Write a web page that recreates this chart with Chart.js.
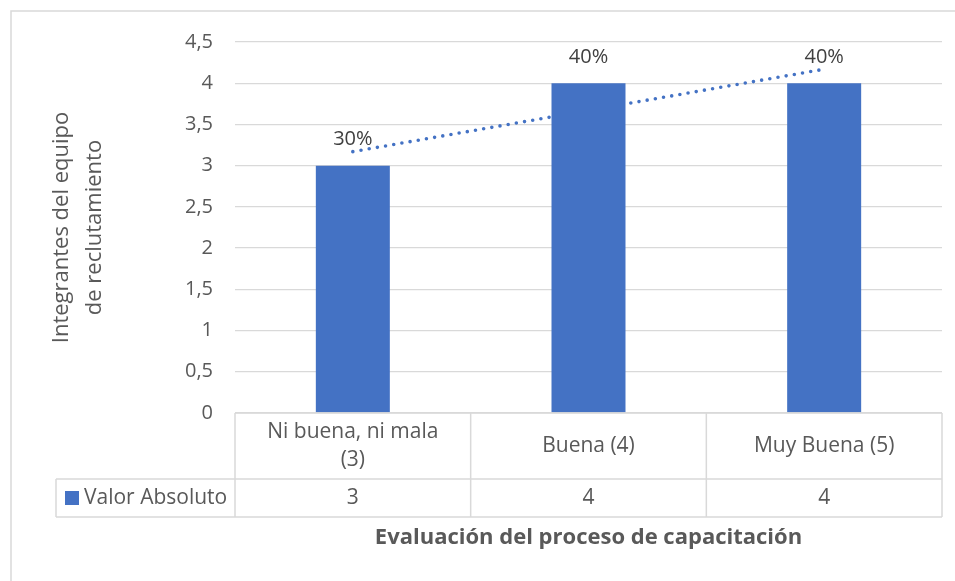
<!DOCTYPE html>
<html>
<head>
<meta charset="utf-8">
<script src="https://cdn.jsdelivr.net/npm/chart.js@4"></script>
<style>
  html, body { margin: 0; padding: 0; background: #fff; }
  #wrap { width: 955px; height: 581px; position: relative; }
</style>
</head>
<body>
<div id="wrap"><canvas id="chart"></canvas></div>
<script>
// Datos
const categorias = [["Ni buena, ni mala", "(3)"], ["Buena (4)"], ["Muy Buena (5)"]];
const valores = [3, 4, 4];
const porcentajes = ["30%", "40%", "40%"];
const tendencia = [3.17, 3.67, 4.17];
const yTickLabels = ["0", "0,5", "1", "1,5", "2", "2,5", "3", "3,5", "4", "4,5"];
const serieNombre = "Valor Absoluto";

const FONT = "'Open Sans', sans-serif";
const GRIS = "#d9d9d9";
const TEXTO = "#595959";
const AZUL = "#4472C4";

// Marco, tabla de datos, etiquetas y titulo del eje X
const tablaPlugin = {
  id: "tabla",
  beforeDraw(chart) {
    const ctx = chart.ctx;
    ctx.save();
    ctx.strokeStyle = GRIS;
    ctx.lineWidth = 1.5;
    ctx.strokeRect(11, 11, 2000, 2000);
    ctx.restore();
  },
  afterDatasetsDraw(chart) {
    const ctx = chart.ctx;
    const meta = chart.getDatasetMeta(0);
    ctx.save();
    ctx.fillStyle = "#404040";
    ctx.font = "20px " + FONT;
    ctx.textAlign = "center";
    ctx.textBaseline = "middle";
    meta.data.forEach((bar, i) => {
      ctx.fillText(porcentajes[i], bar.x, bar.y - 26);
    });
    ctx.restore();
  },
  afterDraw(chart) {
    const { ctx, chartArea: a, scales: { x } } = chart;
    const top = a.bottom, mid = top + 66, bot = top + 104;
    const legendLeft = 56;
    const step = (a.right - a.left) / categorias.length;

    ctx.save();
    ctx.strokeStyle = GRIS;
    ctx.lineWidth = 1.5;
    ctx.beginPath();
    ctx.moveTo(a.left, top); ctx.lineTo(a.right, top);
    ctx.moveTo(legendLeft, mid); ctx.lineTo(a.right, mid);
    ctx.moveTo(legendLeft, bot); ctx.lineTo(a.right, bot);
    ctx.moveTo(legendLeft, mid); ctx.lineTo(legendLeft, bot);
    for (let i = 0; i <= categorias.length; i++) {
      const xx = a.left + i * step;
      ctx.moveTo(xx, top); ctx.lineTo(xx, bot);
    }
    ctx.stroke();

    ctx.fillStyle = TEXTO;
    ctx.font = "21px " + FONT;
    ctx.textAlign = "center";
    ctx.textBaseline = "middle";
    categorias.forEach((lines, i) => {
      const cx = x.getPixelForValue(i);
      const lh = 28;
      const y0 = (top + mid) / 2 - (lines.length - 1) * lh / 2;
      lines.forEach((t, j) => ctx.fillText(t, cx, y0 + j * lh));
      ctx.fillText(String(valores[i]), cx, (mid + bot) / 2);
    });

    // leyenda dentro de la tabla
    ctx.fillStyle = AZUL;
    ctx.fillRect(65, (mid + bot) / 2 - 7, 14, 14);
    ctx.fillStyle = TEXTO;
    ctx.textAlign = "left";
    ctx.fillText(serieNombre, 84, (mid + bot) / 2);

    // titulo eje X
    ctx.font = "bold 22px " + FONT;
    ctx.textAlign = "center";
    ctx.fillText("Evaluación del proceso de capacitación", (a.left + a.right) / 2, 538);
    ctx.restore();
  }
};

new Chart(document.getElementById("chart"), {
  type: "bar",
  data: {
    labels: categorias.map((c) => c.join(" ")),
    datasets: [
      {
        type: "bar",
        label: serieNombre,
        data: valores,
        backgroundColor: AZUL,
        categoryPercentage: 1,
        barPercentage: 0.314,
        order: 0
      },
      {
        type: "line",
        label: "Tendencia",
        data: tendencia,
        borderColor: AZUL,
        borderWidth: 3.6,
        borderDash: [0, 8.3],
        borderCapStyle: "round",
        pointRadius: 0,
        fill: false,
        order: 1
      }
    ]
  },
  options: {
    responsive: true,
    maintainAspectRatio: false,
    animation: false,
    layout: { padding: { top: 42, right: 13, bottom: 168, left: 0 } },
    plugins: {
      legend: { display: false },
      tooltip: { enabled: false }
    },
    scales: {
      x: { display: false },
      y: {
        min: 0,
        max: 4.5,
        afterFit: (scale) => { scale.width = 235; },
        ticks: {
          stepSize: 0.5,
          padding: 22,
          color: TEXTO,
          font: { family: FONT, size: 20 },
          callback: (v, i) => yTickLabels[i]
        },
        grid: { color: GRIS, lineWidth: 1.3, drawTicks: false },
        border: { display: false },
        title: {
          display: true,
          text: ["Integrantes del equipo", "de reclutamiento"],
          color: TEXTO,
          font: { family: FONT, size: 22, lineHeight: 1.5 },
          padding: { top: 45, bottom: 0 }
        }
      }
    }
  },
  plugins: [tablaPlugin]
});
</script>
</body>
</html>
